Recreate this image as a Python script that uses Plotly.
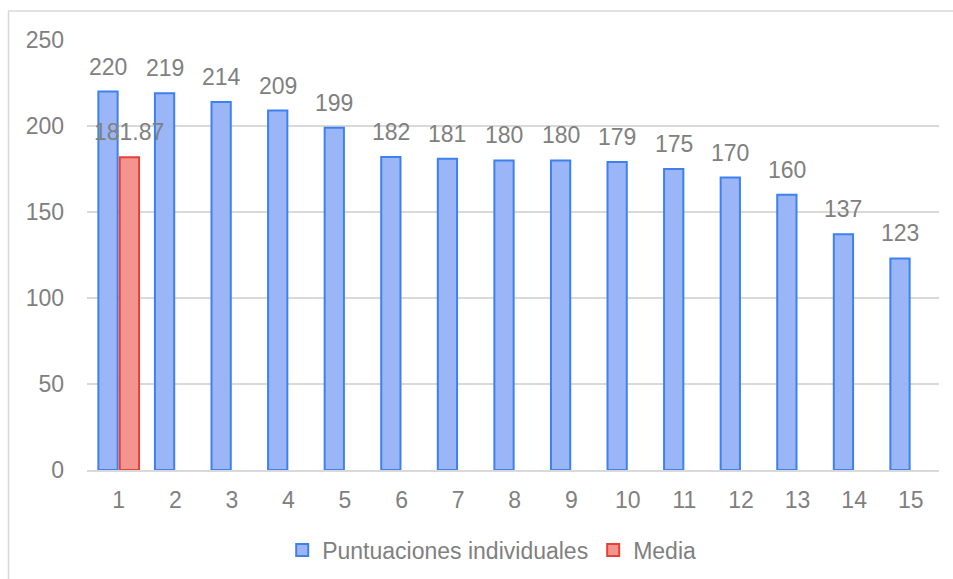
import plotly.graph_objects as go

# Scores per participant and their mean
categories = [str(i) for i in range(1, 16)]
puntuaciones = [220, 219, 214, 209, 199, 182, 181, 180, 180, 179, 175, 170, 160, 137, 123]
media_categories = ["1"]
media_values = [181.87]

TEXT_GRAY = "#808080"
GRID_GRAY = "#d9d9d9"
FONT = "Liberation Sans, Arial, sans-serif"
FONT_SIZE = 23

fig = go.Figure()

fig.add_trace(go.Bar(
    name="Puntuaciones individuales",
    x=categories,
    y=puntuaciones,
    marker=dict(color="#9bb6f6", line=dict(color="#3f80f0", width=2)),
    hoverinfo="skip",
))
fig.add_trace(go.Bar(
    name="Media",
    x=media_categories,
    y=media_values,
    marker=dict(color="#f4948e", line=dict(color="#e5413a", width=2)),
    hoverinfo="skip",
))

# Value labels above each bar (bars sit left/right of the category centre);
# on a category axis annotations are placed by category index
slot_shift = 10.7
annotations = []
for cat, val in zip(categories, puntuaciones):
    annotations.append(dict(
        x=categories.index(cat), y=val, text=f"{val:g}", showarrow=False,
        xref="x", yref="y", xanchor="center", yanchor="bottom",
        xshift=-slot_shift, yshift=10,
        font=dict(family=FONT, size=FONT_SIZE, color=TEXT_GRAY),
    ))
for cat, val in zip(media_categories, media_values):
    annotations.append(dict(
        x=categories.index(cat), y=val, text=f"{val:.2f}", showarrow=False,
        xref="x", yref="y", xanchor="center", yanchor="bottom",
        xshift=slot_shift, yshift=10,
        font=dict(family=FONT, size=FONT_SIZE, color=TEXT_GRAY),
    ))

fig.update_layout(
    width=953,
    height=579,
    margin=dict(l=87, r=14, t=40, b=109, autoexpand=False),
    paper_bgcolor="white",
    plot_bgcolor="white",
    barmode="group",
    bargap=0.243,
    bargroupgap=0.1,
    font=dict(family=FONT, size=FONT_SIZE, color=TEXT_GRAY),
    showlegend=True,
    legend=dict(
        orientation="h",
        x=0.475, xanchor="center",
        y=-0.186, yanchor="middle",
        font=dict(family=FONT, size=FONT_SIZE, color=TEXT_GRAY),
        itemwidth=30,
        traceorder="normal",
    ),
    annotations=annotations,
    shapes=[dict(
        type="rect", xref="paper", yref="paper",
        x0=-0.0921, x1=1.03, y0=-0.30, y1=1.0674,
        line=dict(color=GRID_GRAY, width=1.5),
        fillcolor="rgba(0,0,0,0)", layer="below",
    )],
)

fig.update_xaxes(
    type="category",
    showgrid=False,
    showline=True, linecolor=GRID_GRAY, linewidth=1.5,
    ticks="", ticklabelstandoff=9,
    tickfont=dict(family=FONT, size=FONT_SIZE, color=TEXT_GRAY),
)
fig.update_yaxes(
    range=[0, 250],
    tickvals=[0, 50, 100, 150, 200, 250],
    showgrid=True, gridcolor=GRID_GRAY, gridwidth=1.5,
    zeroline=False, showline=False,
    ticks="", ticklabelstandoff=22,
    tickfont=dict(family=FONT, size=FONT_SIZE, color=TEXT_GRAY),
)

fig.write_html("out.html")
